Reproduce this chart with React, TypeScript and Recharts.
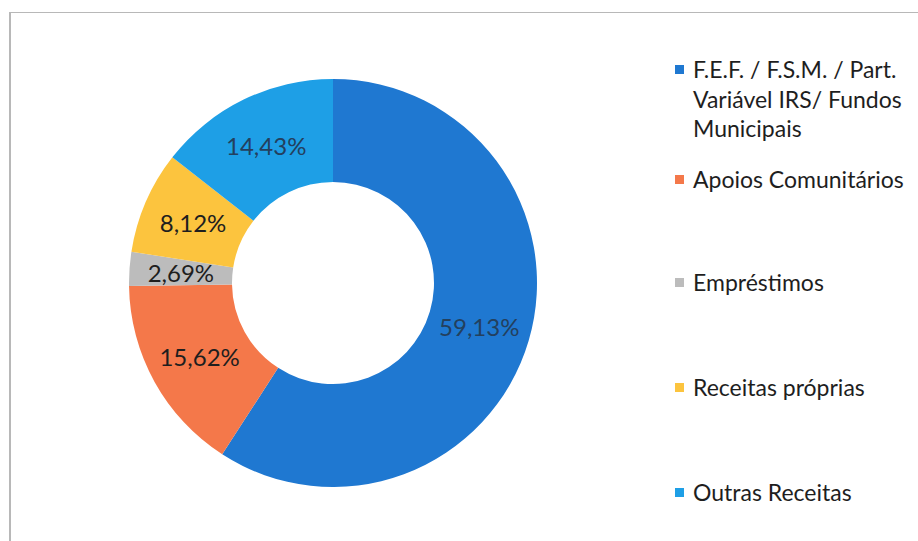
import { PieChart, Pie, Cell, Legend } from "recharts";

const categories = [
  "F.E.F. / F.S.M. / Part. Variável IRS/ Fundos Municipais",
  "Apoios Comunitários",
  "Empréstimos",
  "Receitas próprias",
  "Outras Receitas",
];
const shares = [59.13, 15.62, 2.69, 8.12, 14.43];
const colors = ["#1f78d1", "#f4784a", "#bcbcbc", "#fcc43e", "#1e9fe6"];
const labelColors = ["#23405e", "#1e1e1e", "#1e1e1e", "#1e1e1e", "#23405e"];

const data = categories.map((name, i) => ({ name, value: shares[i] }));

// vertical centre of each legend entry (first line)
const legendRows = [70, 180, 283, 388, 493];

const RADIAN = Math.PI / 180;

const renderLabel = (props: any) => {
  const { cx, cy, midAngle, innerRadius, outerRadius, value, index } = props;
  const r = (innerRadius + outerRadius) / 2;
  const x = cx + r * Math.cos(-midAngle * RADIAN);
  const y = cy + r * Math.sin(-midAngle * RADIAN);
  return (
    <text
      x={x}
      y={y}
      textAnchor="middle"
      dominantBaseline="central"
      fill={labelColors[index]}
      style={{ fontSize: 24, fontFamily: "Lato" }}
    >
      {value.toFixed(2).replace(".", ",") + "%"}
    </text>
  );
};

const LegendBox = () => (
  <div style={{ position: "relative", width: 240, height: 520, fontFamily: "Lato" }}>
    {categories.map((name, i) => (
      <div
        key={name}
        style={{
          position: "absolute",
          left: 0,
          top: legendRows[i] - 15,
          display: "flex",
          alignItems: "flex-start",
        }}
      >
        <div
          style={{
            width: 9,
            height: 9,
            background: colors[i],
            marginTop: 10,
            marginRight: 9,
            flexShrink: 0,
          }}
        />
        <div style={{ width: 226, fontSize: 23, lineHeight: "29.5px", color: "#1e1e1e", textAlign: "left" }}>
          {name}
        </div>
      </div>
    ))}
  </div>
);

const App = () => {
  return (
    <div style={{ position: "absolute", left: 0, top: 0, width: 918, height: 541, background: "#fff" }}>
      <div
        style={{
          position: "absolute",
          left: 9,
          top: 12,
          width: 909,
          height: 529,
          borderTop: "1px solid #b8b8b8",
          borderLeft: "2px solid #b8b8b8",
        }}
      />
      <PieChart width={918} height={541} style={{ position: "absolute", left: 0, top: 0 }}>
        <Pie
          data={data}
          dataKey="value"
          nameKey="name"
          cx={328}
          cy={278}
          innerRadius={101}
          outerRadius={204}
          startAngle={90}
          endAngle={-270}
          stroke="none"
          label={renderLabel}
          labelLine={false}
          isAnimationActive={false}
        >
          {data.map((d, i) => (
            <Cell key={d.name} fill={colors[i]} />
          ))}
        </Pie>
        <Legend
          layout="vertical"
          align="right"
          verticalAlign="top"
          content={() => <LegendBox />}
          wrapperStyle={{ left: 675, top: 0, width: 240 }}
        />
      </PieChart>
    </div>
  );
};

export default App;
